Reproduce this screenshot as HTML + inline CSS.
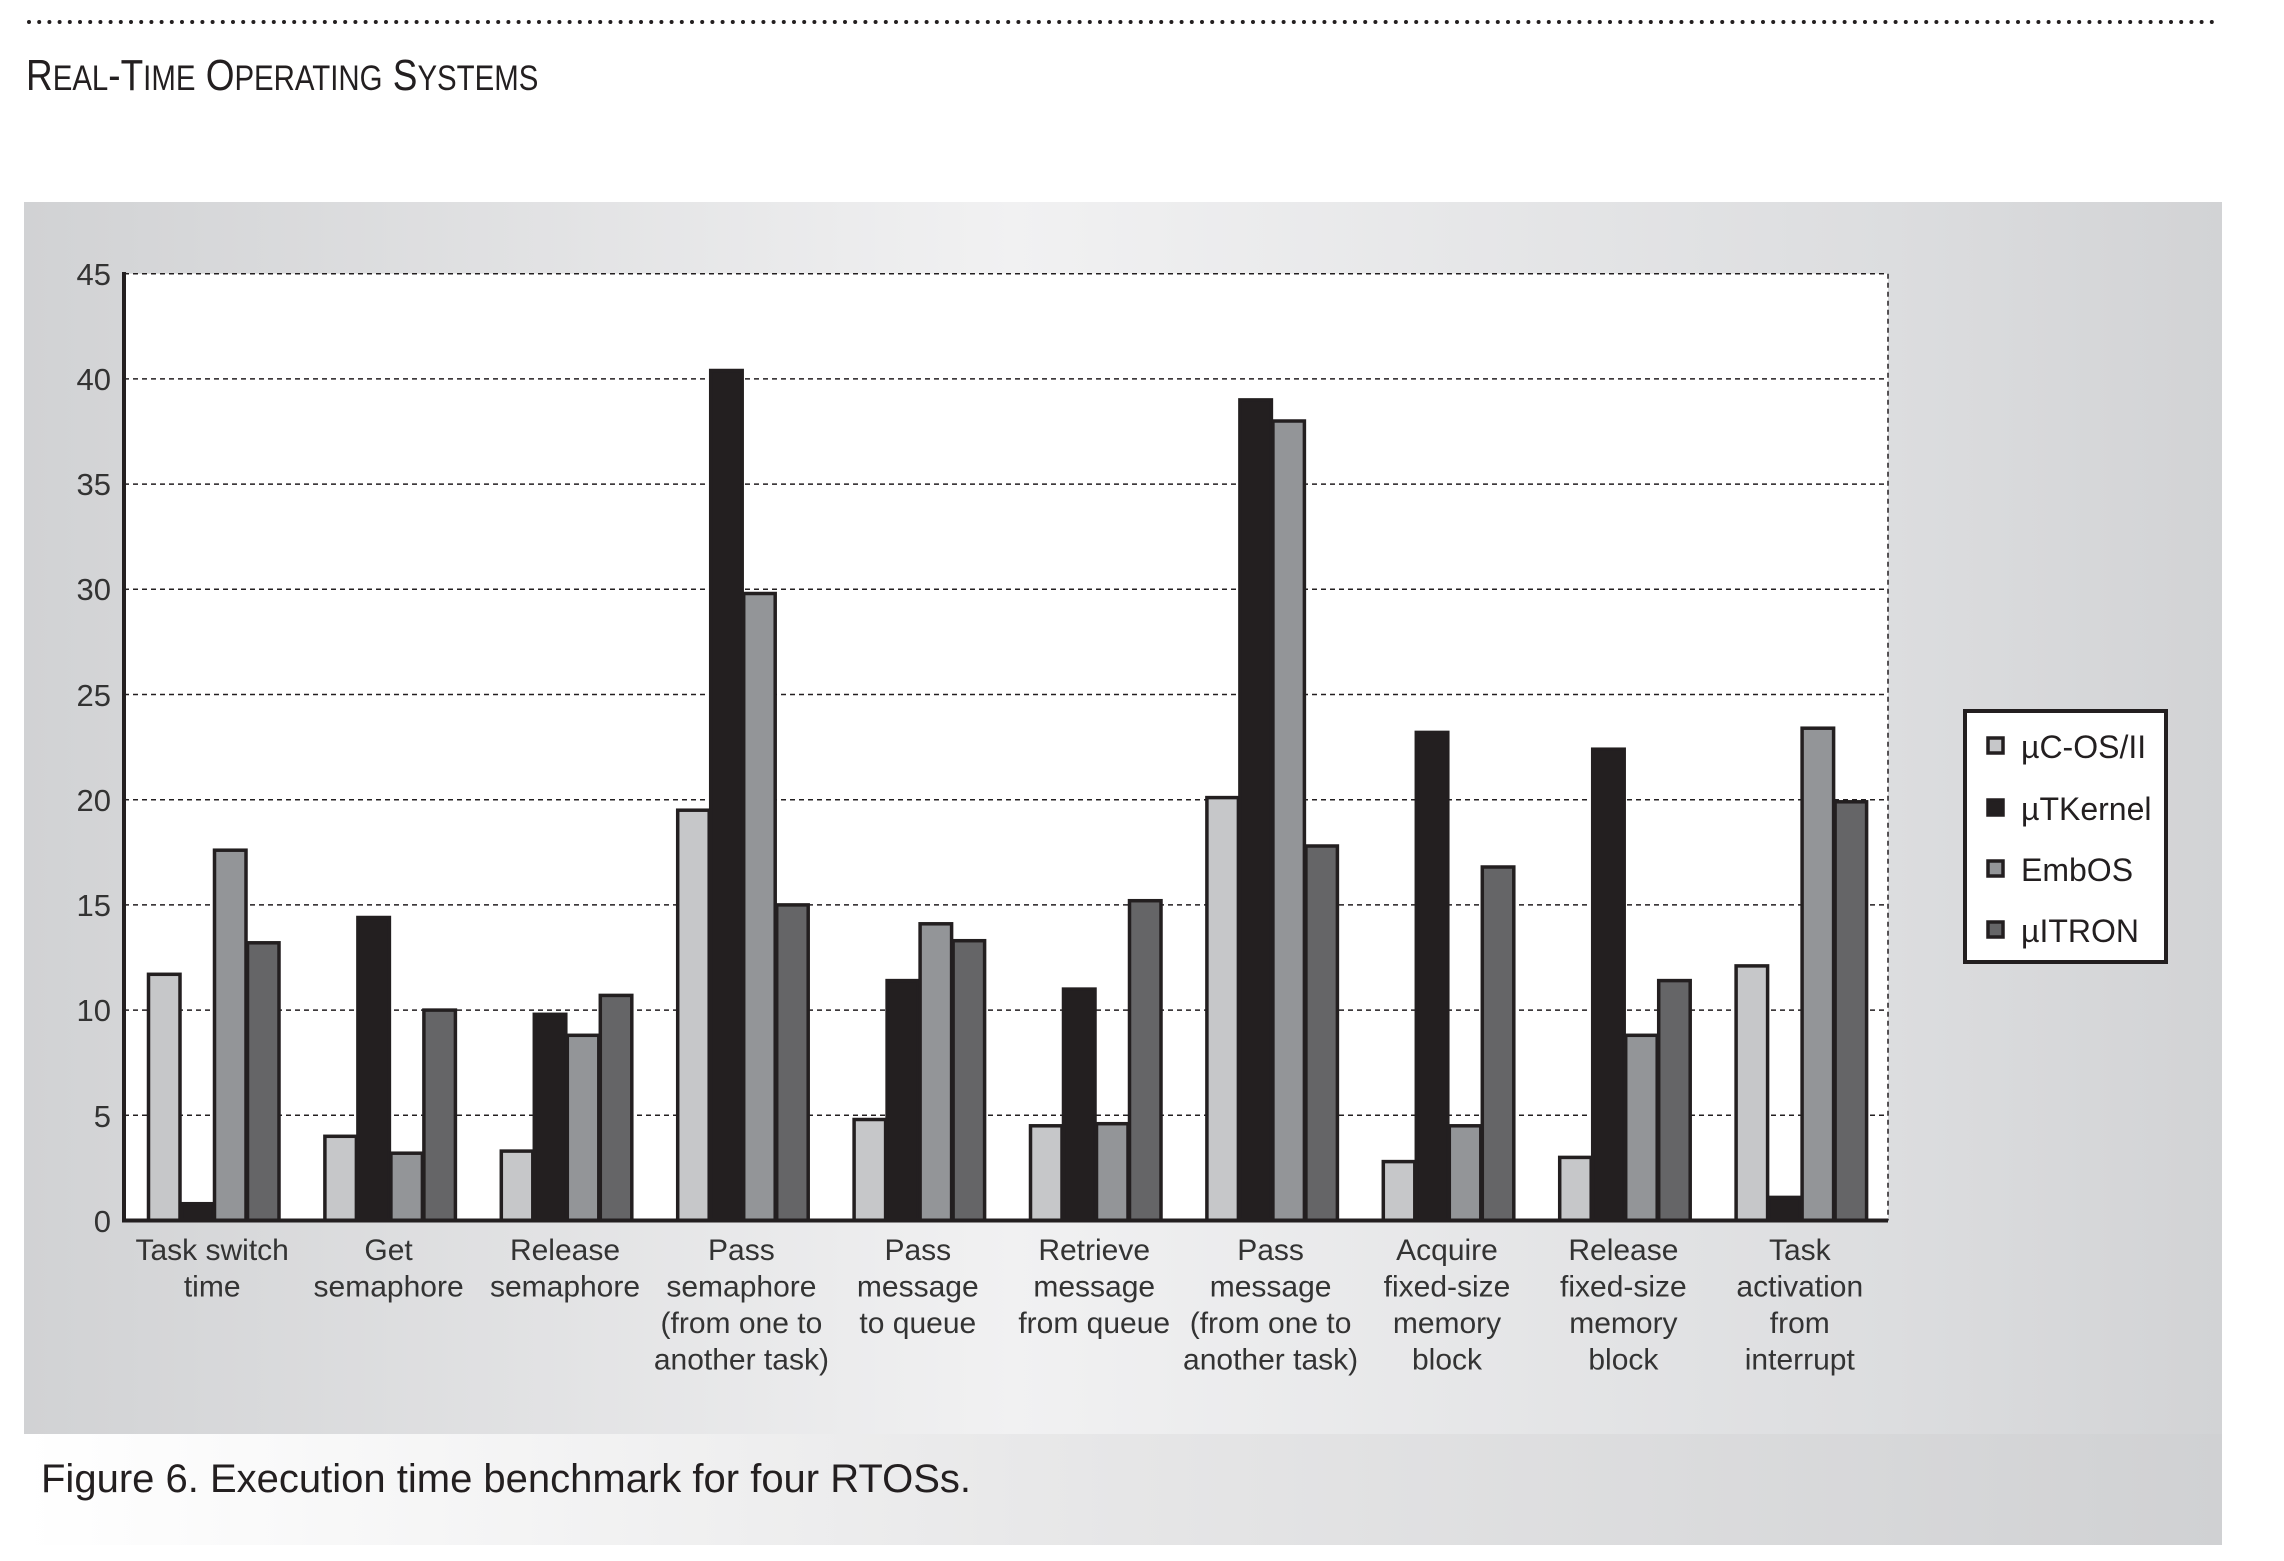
<!DOCTYPE html>
<html><head><meta charset="utf-8"><style>
html,body{margin:0;padding:0;background:#fff;}
svg{display:block;}
</style></head><body>
<svg width="2284" height="1561" viewBox="0 0 2284 1561" xmlns="http://www.w3.org/2000/svg" font-family="Liberation Sans, sans-serif">
<defs>
<linearGradient id="pg" x1="0" y1="0" x2="1" y2="0">
<stop offset="0" stop-color="#d1d2d4"/>
<stop offset="0.45" stop-color="#f1f1f2"/>
<stop offset="0.85" stop-color="#dcdddf"/>
<stop offset="1" stop-color="#d2d3d5"/>
</linearGradient>
<linearGradient id="cg" x1="0" y1="0" x2="1" y2="0">
<stop offset="0" stop-color="#ffffff"/>
<stop offset="0.5" stop-color="#e6e6e7"/>
<stop offset="1" stop-color="#d0d1d3"/>
</linearGradient>
</defs>
<line x1="29" y1="22" x2="2217" y2="22" stroke="#231f20" stroke-width="4" stroke-dasharray="0 10.2" stroke-linecap="round"/>
<text x="31" y="90" fill="#231f20" transform="scale(0.84,1)"><tspan font-size="44">R</tspan><tspan font-size="35">EAL</tspan><tspan font-size="44">-T</tspan><tspan font-size="35">IME</tspan><tspan font-size="44"> O</tspan><tspan font-size="35">PERATING</tspan><tspan font-size="44"> S</tspan><tspan font-size="35">YSTEMS</tspan></text>
<rect x="24" y="202" width="2198" height="1232" fill="url(#pg)"/>
<rect x="24" y="1434" width="2198" height="111" fill="url(#cg)"/>
<text x="41" y="1492" font-size="40" fill="#231f20">Figure 6. Execution time benchmark for four RTOSs.</text>
<rect x="124" y="273.7" width="1764" height="946.8" fill="#fff"/>
<g stroke="#231f20" stroke-width="1.5" stroke-dasharray="5 4">
<line x1="124" y1="273.7" x2="1888" y2="273.7"/>
<line x1="124" y1="378.9" x2="1888" y2="378.9"/>
<line x1="124" y1="484.1" x2="1888" y2="484.1"/>
<line x1="124" y1="589.3" x2="1888" y2="589.3"/>
<line x1="124" y1="694.5" x2="1888" y2="694.5"/>
<line x1="124" y1="799.7" x2="1888" y2="799.7"/>
<line x1="124" y1="904.9" x2="1888" y2="904.9"/>
<line x1="124" y1="1010.1" x2="1888" y2="1010.1"/>
<line x1="124" y1="1115.3" x2="1888" y2="1115.3"/>
<line x1="1888" y1="273.7" x2="1888" y2="1220.5"/>
</g>
<g font-size="31" fill="#333" text-anchor="end">
<text x="111" y="285">45</text><text x="111" y="390">40</text><text x="111" y="495">35</text>
<text x="111" y="600">30</text><text x="111" y="706">25</text><text x="111" y="811">20</text>
<text x="111" y="916">15</text><text x="111" y="1021">10</text><text x="111" y="1127">5</text>
<text x="111" y="1232">0</text>
</g>
<g stroke="#231f20" stroke-width="3.5" transform="translate(0,1220.5) scale(1,-1)">
<rect x="148.5" y="0" width="31.5" height="246.2" fill="#c6c7c9"/>
<rect x="181.5" y="0" width="31.5" height="16.8" fill="#231f20"/>
<rect x="214.5" y="0" width="31.5" height="370.3" fill="#939598"/>
<rect x="247.5" y="0" width="31.5" height="277.7" fill="#656567"/>
<rect x="324.9" y="0" width="31.5" height="84.2" fill="#c6c7c9"/>
<rect x="357.9" y="0" width="31.5" height="303.0" fill="#231f20"/>
<rect x="390.9" y="0" width="31.5" height="67.3" fill="#939598"/>
<rect x="423.9" y="0" width="31.5" height="210.4" fill="#656567"/>
<rect x="501.3" y="0" width="31.5" height="69.4" fill="#c6c7c9"/>
<rect x="534.3" y="0" width="31.5" height="206.2" fill="#231f20"/>
<rect x="567.3" y="0" width="31.5" height="185.2" fill="#939598"/>
<rect x="600.3" y="0" width="31.5" height="225.1" fill="#656567"/>
<rect x="677.7" y="0" width="31.5" height="410.3" fill="#c6c7c9"/>
<rect x="710.7" y="0" width="31.5" height="850.0" fill="#231f20"/>
<rect x="743.7" y="0" width="31.5" height="627.0" fill="#939598"/>
<rect x="776.7" y="0" width="31.5" height="315.6" fill="#656567"/>
<rect x="854.1" y="0" width="31.5" height="101.0" fill="#c6c7c9"/>
<rect x="887.1" y="0" width="31.5" height="239.9" fill="#231f20"/>
<rect x="920.1" y="0" width="31.5" height="296.7" fill="#939598"/>
<rect x="953.1" y="0" width="31.5" height="279.8" fill="#656567"/>
<rect x="1030.5" y="0" width="31.5" height="94.7" fill="#c6c7c9"/>
<rect x="1063.5" y="0" width="31.5" height="231.4" fill="#231f20"/>
<rect x="1096.5" y="0" width="31.5" height="96.8" fill="#939598"/>
<rect x="1129.5" y="0" width="31.5" height="319.8" fill="#656567"/>
<rect x="1206.9" y="0" width="31.5" height="422.9" fill="#c6c7c9"/>
<rect x="1239.9" y="0" width="31.5" height="820.6" fill="#231f20"/>
<rect x="1272.9" y="0" width="31.5" height="799.5" fill="#939598"/>
<rect x="1305.9" y="0" width="31.5" height="374.5" fill="#656567"/>
<rect x="1383.3" y="0" width="31.5" height="58.9" fill="#c6c7c9"/>
<rect x="1416.3" y="0" width="31.5" height="488.1" fill="#231f20"/>
<rect x="1449.3" y="0" width="31.5" height="94.7" fill="#939598"/>
<rect x="1482.3" y="0" width="31.5" height="353.5" fill="#656567"/>
<rect x="1559.7" y="0" width="31.5" height="63.1" fill="#c6c7c9"/>
<rect x="1592.7" y="0" width="31.5" height="471.3" fill="#231f20"/>
<rect x="1625.7" y="0" width="31.5" height="185.2" fill="#939598"/>
<rect x="1658.7" y="0" width="31.5" height="239.9" fill="#656567"/>
<rect x="1736.1" y="0" width="31.5" height="254.6" fill="#c6c7c9"/>
<rect x="1769.1" y="0" width="31.5" height="23.1" fill="#231f20"/>
<rect x="1802.1" y="0" width="31.5" height="492.3" fill="#939598"/>
<rect x="1835.1" y="0" width="31.5" height="418.7" fill="#656567"/>
</g>
<line x1="124" y1="272" x2="124" y2="1222" stroke="#231f20" stroke-width="4"/>
<line x1="122" y1="1220.5" x2="1888" y2="1220.5" stroke="#231f20" stroke-width="4"/>
<g font-size="30" fill="#333" text-anchor="middle">
<text x="212.2" y="1260">Task switch</text><text x="212.2" y="1296.5">time</text>
<text x="388.6" y="1260">Get</text><text x="388.6" y="1296.5">semaphore</text>
<text x="565.0" y="1260">Release</text><text x="565.0" y="1296.5">semaphore</text>
<text x="741.4" y="1260">Pass</text><text x="741.4" y="1296.5">semaphore</text><text x="741.4" y="1333">(from one to</text><text x="741.4" y="1369.5">another task)</text>
<text x="917.8" y="1260">Pass</text><text x="917.8" y="1296.5">message</text><text x="917.8" y="1333">to queue</text>
<text x="1094.2" y="1260">Retrieve</text><text x="1094.2" y="1296.5">message</text><text x="1094.2" y="1333">from queue</text>
<text x="1270.6" y="1260">Pass</text><text x="1270.6" y="1296.5">message</text><text x="1270.6" y="1333">(from one to</text><text x="1270.6" y="1369.5">another task)</text>
<text x="1447.0" y="1260">Acquire</text><text x="1447.0" y="1296.5">fixed-size</text><text x="1447.0" y="1333">memory</text><text x="1447.0" y="1369.5">block</text>
<text x="1623.4" y="1260">Release</text><text x="1623.4" y="1296.5">fixed-size</text><text x="1623.4" y="1333">memory</text><text x="1623.4" y="1369.5">block</text>
<text x="1799.8" y="1260">Task</text><text x="1799.8" y="1296.5">activation</text><text x="1799.8" y="1333">from</text><text x="1799.8" y="1369.5">interrupt</text>
</g>
<rect x="1965" y="711" width="201" height="251" fill="#fff" stroke="#231f20" stroke-width="4"/>
<g stroke="#231f20" stroke-width="3.5">
<rect x="1988" y="738" width="15" height="15" fill="#c6c7c9"/>
<rect x="1988" y="800" width="15" height="15" fill="#231f20"/>
<rect x="1988" y="861" width="15" height="15" fill="#939598"/>
<rect x="1988" y="922" width="15" height="15" fill="#656567"/>
</g>
<g font-size="32" fill="#231f20">
<text x="2021" y="758">µC-OS/II</text>
<text x="2021" y="820">µTKernel</text>
<text x="2021" y="881">EmbOS</text>
<text x="2021" y="942">µITRON</text>
</g>
</svg>
</body></html>
